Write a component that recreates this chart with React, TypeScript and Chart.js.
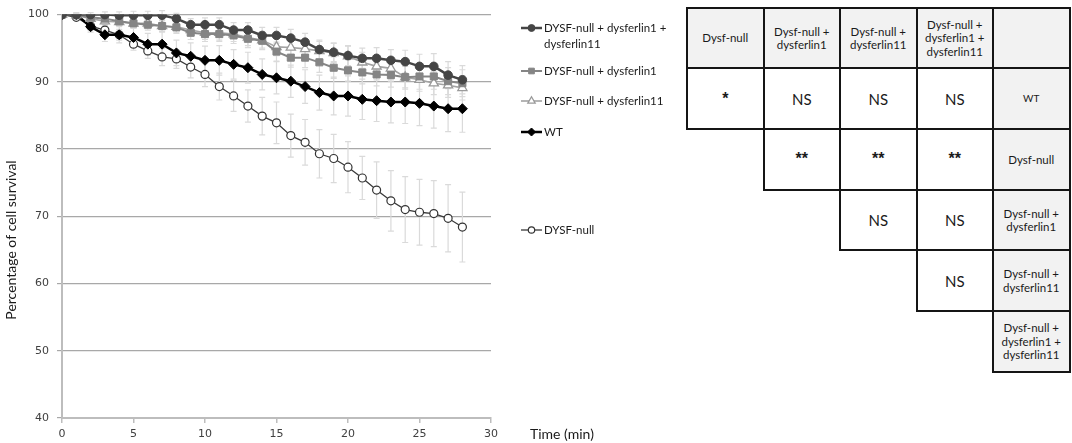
import React, { useEffect, useRef } from "react";
import { Chart, registerables } from "chart.js";
import { drawPoint } from "chart.js/helpers";

Chart.register(...registerables);

// time points (min)
const minutes = [0, 1, 2, 3, 4, 5, 6, 7, 8, 9, 10, 11, 12, 13, 14, 15, 16, 17, 18, 19, 20, 21, 22, 23, 24, 25, 26, 27, 28];

const seriesLabels = [
  ["DYSF-null + dysferlin1 +", "dysferlin11"],
  ["DYSF-null + dysferlin1"],
  ["DYSF-null + dysferlin11"],
  ["WT"],
  ["DYSF-null"],
];

// % cell survival
const nullD1D11 = [100, 100, 100, 100, 99.9, 99.9, 99.9, 99.9, 99.4, 98.5, 98.5, 98.5, 97.7, 97.7, 96.9, 96.9, 96.5, 95.9, 94.8, 94.4, 93.9, 93.5, 93.5, 93.2, 93.0, 92.3, 92.3, 91.0, 90.3];
const nullD1 = [100, 99.9, 99.6, 99.4, 99.0, 98.7, 98.5, 98.3, 98.1, 97.3, 97.1, 97.1, 96.9, 96.4, 96.1, 94.5, 93.6, 93.6, 92.9, 92.1, 91.7, 91.4, 91.1, 91.0, 90.7, 90.8, 90.8, 90.1, 89.8];
const nullD11 = [100, 99.9, 99.4, 99.0, 98.9, 98.7, 98.7, 98.3, 98.2, 97.7, 97.3, 97.3, 97.1, 96.6, 96.2, 95.2, 95.1, 94.9, 94.6, 94.3, 93.8, 92.9, 92.3, 92.0, 90.7, 90.3, 89.8, 89.5, 89.1];
const wt = [100, 100, 98.2, 97.0, 97.0, 96.6, 95.6, 95.6, 94.3, 93.8, 93.2, 93.2, 92.6, 92.1, 91.1, 90.6, 90.1, 89.3, 88.4, 87.9, 87.9, 87.4, 87.2, 87.0, 87.0, 86.8, 86.4, 86.0, 86.0];
const dysfNull = [100, 99.6, 98.3, 97.7, 97.0, 95.6, 94.6, 93.7, 93.4, 92.2, 91.1, 89.3, 87.9, 86.4, 84.9, 83.9, 82.0, 81.0, 79.3, 78.6, 77.3, 75.7, 73.9, 72.3, 71.0, 70.6, 70.4, 69.7, 68.4];

// error bar half-widths
const nullD1D11Err = [0, 0.2, 0.3, 0.4, 0.5, 0.6, 0.6, 0.7, 0.8, 0.9, 1.0, 1.0, 1.1, 1.1, 1.2, 1.2, 1.3, 1.3, 1.4, 1.4, 1.5, 1.5, 1.6, 1.6, 1.7, 1.8, 1.9, 2.0, 2.1];
const nullD1Err = [0, 0.3, 0.4, 0.5, 0.6, 0.7, 0.8, 0.8, 0.9, 1.0, 1.1, 1.1, 1.2, 1.3, 1.3, 1.4, 1.4, 1.5, 1.5, 1.6, 1.6, 1.7, 1.7, 1.8, 1.8, 1.9, 1.9, 2.0, 2.0];
const nullD11Err = [0, 0.3, 0.4, 0.5, 0.5, 0.6, 0.7, 0.8, 0.9, 0.9, 1.0, 1.1, 1.1, 1.2, 1.2, 1.3, 1.3, 1.4, 1.4, 1.4, 1.5, 1.5, 1.6, 1.6, 1.6, 1.7, 1.7, 1.8, 1.8];
const wtErr = [0, 0.3, 0.8, 1.0, 1.2, 1.4, 1.6, 1.8, 1.9, 2.0, 2.1, 2.2, 2.2, 2.3, 2.3, 2.4, 2.4, 2.5, 2.6, 2.8, 3.0, 3.0, 3.1, 3.1, 3.2, 3.3, 3.3, 3.4, 3.5];
const dysfNullErr = [0, 0.3, 0.6, 0.7, 0.8, 0.9, 1.1, 1.3, 1.4, 1.6, 1.8, 2.0, 2.3, 2.4, 2.8, 3.1, 3.2, 3.4, 3.6, 3.6, 3.8, 3.2, 4.2, 4.5, 4.9, 4.9, 4.9, 5.0, 5.2];

const yTicks = [40, 50, 60, 70, 80, 90, 100];
const xTicks = [0, 5, 10, 15, 20, 25, 30];

// significance table
const colHeads = ["Dysf-null", "Dysf-null +\ndysferlin1", "Dysf-null +\ndysferlin11", "Dysf-null +\ndysferlin1 +\ndysferlin11", ""];
const rowHeads = ["WT", "Dysf-null", "Dysf-null +\ndysferlin1", "Dysf-null +\ndysferlin11", "Dysf-null +\ndysferlin1 +\ndysferlin11"];
const signif = [
  ["*", "NS", "NS", "NS"],
  ["**", "**", "**"],
  ["NS", "NS"],
  ["NS"],
  [],
];

const legendY = [28, 71, 101, 132, 230];

const errorBars = {
  id: "errorBars",
  beforeDatasetsDraw(chart: any) {
    const ctx = chart.ctx;
    const y = chart.scales.y;
    ctx.save();
    ctx.strokeStyle = "#dadada";
    ctx.lineWidth = 1.2;
    chart.data.datasets.forEach((ds: any, i: number) => {
      const meta = chart.getDatasetMeta(i);
      meta.data.forEach((pt: any, j: number) => {
        const e = ds.errors[j];
        if (!e) return;
        const v = ds.data[j].y;
        const top = y.getPixelForValue(v + e);
        const bot = y.getPixelForValue(v - e);
        ctx.beginPath();
        ctx.moveTo(pt.x, top);
        ctx.lineTo(pt.x, bot);
        ctx.moveTo(pt.x - 3, top);
        ctx.lineTo(pt.x + 3, top);
        ctx.moveTo(pt.x - 3, bot);
        ctx.lineTo(pt.x + 3, bot);
        ctx.stroke();
      });
    });
    ctx.restore();
  },
};

const extras = {
  id: "extras",
  afterDraw(chart: any) {
    const ctx = chart.ctx;
    ctx.save();
    // legend
    chart.data.datasets.forEach((ds: any, i: number) => {
      const y = legendY[i];
      ctx.strokeStyle = ds.borderColor;
      ctx.lineWidth = ds.borderWidth;
      ctx.beginPath();
      ctx.moveTo(521, y);
      ctx.lineTo(542, y);
      ctx.stroke();
      ctx.fillStyle = ds.pointBackgroundColor;
      ctx.strokeStyle = ds.pointBorderColor;
      ctx.lineWidth = ds.pointBorderWidth;
      drawPoint(ctx, { pointStyle: ds.pointStyle, radius: ds.pointRadius * 0.8, borderWidth: ds.pointBorderWidth, rotation: 0 }, 531.5, y);
      ctx.fillStyle = "#1a1a1a";
      ctx.font = "11.5px Lato";
      ctx.textBaseline = "middle";
      ctx.textAlign = "left";
      seriesLabels[i].forEach((t, k) => ctx.fillText(t, 544, y + k * 16));
    });
    // axis titles
    ctx.fillStyle = "#1a1a1a";
    ctx.font = "14px Lato";
    ctx.textBaseline = "middle";
    ctx.textAlign = "left";
    ctx.fillText("Time (min)", 530, 434);
    ctx.translate(11, 240);
    ctx.rotate(-Math.PI / 2);
    ctx.textAlign = "center";
    ctx.fillText("Percentage of cell survival", 0, 0);
    ctx.restore();
  },
};

const pts = (vals: number[]) => minutes.map((m, i) => ({ x: m, y: vals[i] }));

const Survival: React.FC = () => {
  const chartRef = useRef<HTMLCanvasElement | null>(null);

  useEffect(() => {
    if (!chartRef.current) return;
    const chart = new Chart(chartRef.current, {
      type: "line",
      data: {
        datasets: [
          {
            label: seriesLabels[0].join(" "),
            data: pts(nullD1D11),
            errors: nullD1D11Err,
            borderColor: "#454545",
            borderWidth: 2.5,
            pointStyle: "circle",
            pointRadius: 4.3,
            pointBackgroundColor: "#454545",
            pointBorderColor: "#454545",
            pointBorderWidth: 1,
          },
          {
            label: seriesLabels[1].join(" "),
            data: pts(nullD1),
            errors: nullD1Err,
            borderColor: "#858585",
            borderWidth: 2,
            pointStyle: "rect",
            pointRadius: 5,
            pointBackgroundColor: "#858585",
            pointBorderColor: "#858585",
            pointBorderWidth: 1,
          },
          {
            label: seriesLabels[2].join(" "),
            data: pts(nullD11),
            errors: nullD11Err,
            borderColor: "#a3a3a3",
            borderWidth: 1.6,
            pointStyle: "triangle",
            pointRadius: 5.3,
            pointBackgroundColor: "#ffffff",
            pointBorderColor: "#9a9a9a",
            pointBorderWidth: 1.3,
          },
          {
            label: seriesLabels[3].join(" "),
            data: pts(wt),
            errors: wtErr,
            borderColor: "#000000",
            borderWidth: 2.5,
            pointStyle: "rectRot",
            pointRadius: 5,
            pointBackgroundColor: "#000000",
            pointBorderColor: "#000000",
            pointBorderWidth: 1,
          },
          {
            label: seriesLabels[4].join(" "),
            data: pts(dysfNull),
            errors: dysfNullErr,
            borderColor: "#3a3a3a",
            borderWidth: 1.3,
            pointStyle: "circle",
            pointRadius: 4,
            pointBackgroundColor: "#ffffff",
            pointBorderColor: "#333333",
            pointBorderWidth: 1.2,
          },
        ] as any,
      },
      options: {
        responsive: false,
        animation: false,
        layout: { padding: { top: 8, right: 189, left: 0, bottom: 0 } },
        plugins: {
          legend: { display: false },
          tooltip: { enabled: false },
        },
        scales: {
          x: {
            type: "linear",
            min: 0,
            max: 30,
            afterFit: (s: any) => {
              s.height = 25;
            },
            afterBuildTicks: (s: any) => {
              s.ticks = xTicks.map((v) => ({ value: v }));
            },
            ticks: { color: "#404040", font: { family: "DejaVu Sans", size: 11 }, padding: 5, maxRotation: 0 },
            grid: { drawOnChartArea: false, drawTicks: true, tickLength: 5, color: "#bdbdbd", lineWidth: 1.5 },
            border: { display: true, color: "#bdbdbd", width: 2 },
          },
          y: {
            min: 40,
            max: 100,
            afterFit: (s: any) => {
              s.width = 62;
            },
            afterBuildTicks: (s: any) => {
              s.ticks = yTicks.map((v) => ({ value: v }));
            },
            ticks: { color: "#404040", font: { family: "DejaVu Sans", size: 11 }, padding: 8 },
            grid: { color: "#a8a8a8", lineWidth: 1.2, tickLength: 5 },
            border: { display: true, color: "#bdbdbd", width: 2 },
          },
        },
      } as any,
      plugins: [errorBars, extras],
    });
    return () => {
      chart.destroy();
    };
  }, []);

  return <canvas ref={chartRef} width={680} height={443} style={{ position: "absolute", left: 0, top: 0 }} />;
};

const SigTable: React.FC = () => {
  const x0 = 686;
  const y0 = 6.7;
  const w = 76.5;
  const h = 60.67;
  const cells: React.ReactNode[] = [];
  const cell = (r: number, c: number, text: string, gray: boolean, size: number, font = "Lato", bold = false) => {
    cells.push(
      <div
        key={r + "-" + c}
        style={{
          position: "absolute",
          left: x0 + c * w,
          top: y0 + r * h,
          width: w + 2,
          height: h + 2,
          boxSizing: "border-box",
          border: "2px solid #151515",
          background: gray ? "#f2f2f2" : "#ffffff",
          display: "flex",
          alignItems: "center",
          justifyContent: "center",
          textAlign: "center",
          whiteSpace: "pre-line",
          fontFamily: font,
          fontWeight: bold ? 700 : 400,
          fontSize: size,
          lineHeight: size > 12 ? "18px" : "13.5px",
          color: "#1a1a1a",
        }}
      >
        {text}
      </div>
    );
  };
  colHeads.forEach((t, c) => cell(0, c, t, true, 11.5));
  rowHeads.forEach((t, r) => {
    const row = r + 1;
    signif[r].forEach((s, k) => {
      const c = r + k;
      if (s === "NS") cell(row, c, s, false, 15);
      else cell(row, c, s, false, 16, "Liberation Sans", true);
    });
    cell(row, 4, t, true, t === "WT" ? 10 : 11.5);
  });
  return <>{cells}</>;
};

const App: React.FC = () => {
  return (
    <div style={{ position: "fixed", left: 0, top: 0, width: 1072, height: 443, background: "#fff", overflow: "hidden" }}>
      <Survival />
      <SigTable />
    </div>
  );
};

export default App;
